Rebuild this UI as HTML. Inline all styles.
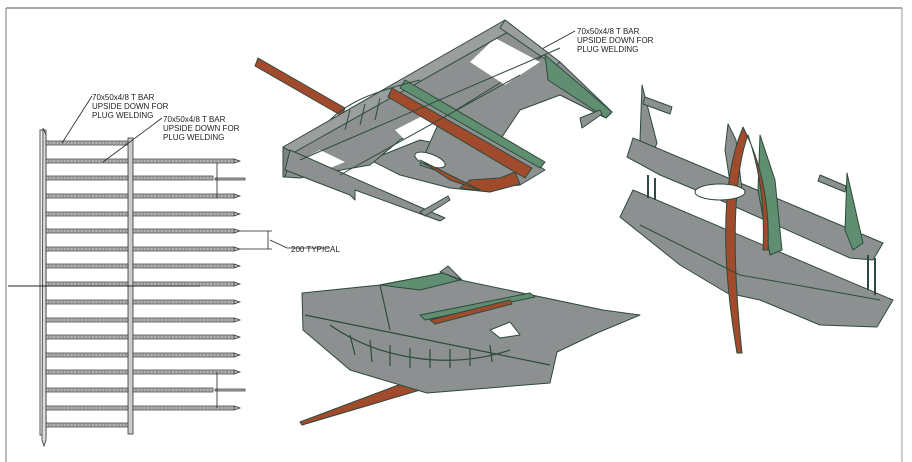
<!DOCTYPE html>
<html><head><meta charset="utf-8"><style>
html,body{margin:0;padding:0;background:#fff;}
svg{display:block;}
text{font-family:"Liberation Sans",sans-serif;font-size:8px;fill:#222;}
</style></head><body>
<svg width="912" height="462" viewBox="0 0 912 462" xmlns="http://www.w3.org/2000/svg">
<line x1="6" y1="8" x2="902" y2="8" stroke="#555" stroke-width="1"/>
<line x1="6" y1="8" x2="6" y2="462" stroke="#777" stroke-width="1"/>
<line x1="902" y1="8" x2="902" y2="462" stroke="#999" stroke-width="1"/>

<!-- LEFT PLAN DRAWING -->
<g stroke="#333" stroke-width="0.8">
<rect x="40" y="130" width="6" height="305" fill="#eee"/>
<polygon points="43,128 46,135 46,440 44,446 42,440" fill="#ddd"/>
<rect x="128" y="138" width="5" height="296" fill="#ccc"/>
</g>
<g stroke="#333" stroke-width="0.7">
<g fill="#b8b8b8">
<rect x="46" y="141" width="82" height="4"/>
<rect x="46" y="159" width="82" height="4"/><rect x="133" y="159" width="101" height="4"/><polygon points="234,159 240,161 234,163"/>
<rect x="46" y="176" width="82" height="4"/><rect x="133" y="176" width="80" height="4"/><rect x="215" y="178" width="30" height="2"/>
<rect x="46" y="194" width="82" height="4"/><rect x="133" y="194" width="101" height="4"/><polygon points="234,194 240,196 234,198"/>
<rect x="46" y="212" width="82" height="4"/><rect x="133" y="212" width="101" height="4"/><polygon points="234,212 240,214 234,216"/>
<rect x="46" y="229" width="82" height="4"/><rect x="133" y="229" width="101" height="4"/><polygon points="234,229 240,231 234,233"/>
<rect x="46" y="247" width="82" height="4"/><rect x="133" y="247" width="101" height="4"/><polygon points="234,247 240,249 234,251"/>
<rect x="46" y="264" width="82" height="4"/><rect x="133" y="264" width="101" height="4"/><polygon points="234,264 240,266 234,268"/>
<rect x="46" y="282" width="82" height="4"/><rect x="133" y="282" width="101" height="4"/><polygon points="234,282 240,284 234,286"/>
<rect x="46" y="300" width="82" height="4"/><rect x="133" y="300" width="101" height="4"/><polygon points="234,300 240,302 234,304"/>
<rect x="46" y="318" width="82" height="4"/><rect x="133" y="318" width="101" height="4"/><polygon points="234,318 240,320 234,322"/>
<rect x="46" y="335" width="82" height="4"/><rect x="133" y="335" width="101" height="4"/><polygon points="234,335 240,337 234,339"/>
<rect x="46" y="353" width="82" height="4"/><rect x="133" y="353" width="101" height="4"/><polygon points="234,353 240,355 234,357"/>
<rect x="46" y="370" width="82" height="4"/><rect x="133" y="370" width="101" height="4"/><polygon points="234,370 240,372 234,374"/>
<rect x="46" y="388" width="82" height="4"/><rect x="133" y="388" width="80" height="4"/><rect x="215" y="389" width="30" height="2"/>
<rect x="46" y="406" width="82" height="4"/><rect x="133" y="406" width="101" height="4"/><polygon points="234,406 240,408 234,410"/>
<rect x="46" y="423" width="82" height="4"/>
</g>
<g stroke-dasharray="2,1.5" fill="none" stroke-width="0.6">
<path d="M48 143H127M48 161H127M135 161H232M48 178H127M135 178H211M48 196H127M135 196H232M48 214H127M135 214H232M48 231H127M135 231H232M48 249H127M135 249H232M48 266H127M135 266H232M48 284H127M135 284H232M48 302H127M135 302H232M48 320H127M135 320H232M48 337H127M135 337H232M48 355H127M135 355H232M48 372H127M135 372H232M48 390H127M135 390H211M48 408H127M135 408H232M48 425H127"/>
</g>
</g>
<line x1="8" y1="286" x2="200" y2="286" stroke="#222" stroke-width="1"/>
<g stroke="#222" stroke-width="0.8" fill="none">
<line x1="217" y1="163" x2="217" y2="198"/>
<line x1="217" y1="372" x2="217" y2="408"/>
<line x1="240" y1="231" x2="272" y2="231"/>
<line x1="240" y1="249" x2="272" y2="249"/>
<line x1="268" y1="231" x2="268" y2="249"/>
<polyline points="270,240 287,248 330,248"/>
<line x1="62" y1="143" x2="92" y2="96"/>
<line x1="103" y1="162" x2="162" y2="118"/>
<line x1="540" y1="50" x2="575" y2="31"/>
</g>
<text x="92" y="100">70x50x4/8 T BAR</text>
<text x="92" y="109">UPSIDE DOWN FOR</text>
<text x="92" y="118">PLUG WELDING</text>
<text x="163" y="122">70x50x4/8 T BAR</text>
<text x="163" y="131">UPSIDE DOWN FOR</text>
<text x="163" y="140">PLUG WELDING</text>
<text x="291" y="252">200 TYPICAL</text>
<text x="577" y="34">70x50x4/8 T BAR</text>
<text x="577" y="43">UPSIDE DOWN FOR</text>
<text x="577" y="52">PLUG WELDING</text>

<!-- TOP-MIDDLE ASSEMBLY -->
<g stroke="#2e4a3c" stroke-width="1" stroke-linejoin="round">
<polygon points="258,58 345,108 342,116 255,66" fill="#a24a2c"/>
<polygon points="370,160 420,140 520,160 532,175 490,192 450,188 400,175" fill="#8c9090"/>
<polygon points="293,153 505,28 545,55 520,75 440,120 400,140 370,165 330,172 300,178 285,177" fill="#8c9090"/>
<polygon points="440,120 545,55 560,62 612,112 606,118 560,95 520,110 500,140 545,170 520,185 470,190 450,175 420,165" fill="#8c9090"/>
<polygon points="495,38 540,62 505,85 470,62" fill="#fff" stroke="none"/>
<polygon points="395,130 430,112 440,120 405,140" fill="#fff" stroke="none"/>
<polygon points="300,160 320,150 345,162 325,170" fill="#fff" stroke="none"/>
<ellipse cx="430" cy="160" rx="16" ry="6" transform="rotate(20 430 160)" fill="#fff"/>
<polygon points="470,180 500,178 515,172 520,184 490,192 460,188" fill="#a24a2c"/>
<polygon points="283,147 505,20 515,28 293,153" fill="#9a9e9e"/>
<polygon points="283,147 293,153 285,177 283,177" fill="#7f8383"/>
<polygon points="290,150 445,218 440,221 355,190 355,200 350,195 285,170" fill="#8c9090"/>
<polygon points="505,20 560,62 555,66 500,28" fill="#9a9e9e"/>
<polygon points="545,55 612,112 606,118 548,80" fill="#5f8f70"/>
<polygon points="392,88 532,168 525,178 388,97" fill="#a24a2c"/>
<polygon points="405,80 545,162 540,168 400,88" fill="#5f8f70"/>
<polygon points="420,160 470,185 480,190 450,180" fill="#a24a2c"/>
<polygon points="580,118 600,110 602,114 582,128" fill="#8c9090"/>
<polygon points="420,212 448,196 450,200 425,216" fill="#8c9090"/>
<path d="M300,160 L560,48 M340,175 L520,75 M330,120 C350,100 380,90 420,80 M345,130 L350,110 M360,125 L365,104 M375,120 L380,98" fill="none"/>
</g>

<!-- RIGHT ASSEMBLY -->
<g stroke="#2e4a3c" stroke-width="1" stroke-linejoin="round">
<polygon points="620,217 633,190 893,300 877,327 820,325 760,300 727,293 680,265" fill="#8c9090"/>
<polygon points="642,85 657,143 650,160 640,140" fill="#8c9090"/>
<polygon points="645,97 672,107 670,114 643,104" fill="#8c9090"/>
<polygon points="627,157 633,138 883,243 873,260 850,258 720,200 660,175" fill="#8c9090"/>
<polygon points="728,124 736,140 742,190 732,195 725,150" fill="#8c9090"/>
<polygon points="760,135 775,180 782,250 770,255 758,190" fill="#5f8f70"/>
<polygon points="847,173 863,243 853,250 845,230" fill="#5f8f70"/>
<polygon points="820,175 846,186 845,192 818,181" fill="#8c9090"/>
<path d="M743,127 C725,170 718,240 737,353 L742,353 C730,240 735,170 748,135 C760,170 765,210 763,250 L768,250 C770,200 760,160 743,127 Z" fill="#a24a2c"/>
<path d="M648,175 L648,198 M655,178 L655,200 M868,255 L868,290 M875,258 L875,295" fill="none" stroke-width="2"/>
<ellipse cx="720" cy="192" rx="25" ry="8" fill="#fff"/>
<path d="M640,225 L740,275 L880,300" fill="none"/>
</g>

<!-- BOTTOM-MIDDLE ASSEMBLY -->
<g stroke="#2e4a3c" stroke-width="1" stroke-linejoin="round">
<polygon points="300,422 425,375 427,388 302,425" fill="#a24a2c"/>
<polygon points="302,293 380,285 443,273 460,280 603,310 640,315 597,333 557,352 550,383 427,393 350,370 303,330" fill="#8c9090"/>
<polygon points="440,272 448,266 462,280" fill="#8c9090"/>
<polygon points="380,285 443,273 460,280 420,290" fill="#5f8f70"/>
<polygon points="420,315 530,293 535,297 425,320" fill="#5f8f70"/>
<polygon points="430,320 510,300 512,304 435,324" fill="#a24a2c"/>
<path d="M305,315 L550,365 M330,325 C380,360 450,370 510,350 M350,335 L355,355 M370,340 L372,362 M390,345 L390,366 M410,348 L410,368 M430,349 L430,368 M450,349 L450,368 M470,348 L470,366 M490,345 L492,362 M380,285 L390,330" fill="none" stroke-width="1.2"/>
<polygon points="490,330 510,322 520,335 500,338" fill="#fff"/>
</g>
</svg>
</body></html>
